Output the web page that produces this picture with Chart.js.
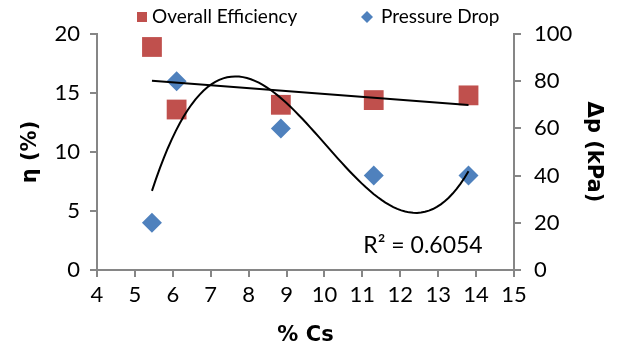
<!DOCTYPE html>
<html>
<head>
<meta charset="UTF-8">
<title>Efficiency and pressure drop vs % Cs</title>
<script src="https://cdn.jsdelivr.net/npm/chart.js"></script>
<style>
    body { margin: 0; background: #fff; }
    #wrap { width: 620px; height: 353px; }
</style>
</head>
<body>
<div id="wrap"><canvas id="myChart"></canvas></div>
<script>
const csValues = [5.45, 6.1, 8.85, 11.3, 13.8];
const efficiency = [18.9, 13.6, 14.0, 14.4, 14.8];
const pressureDrop = [20, 80, 60, 40, 40];
const rSquaredText = 'R² = 0.6054';

// least squares polynomial fit (same as the spreadsheet trendlines)
function polyFit(xs, ys, order) {
    const n = order + 1;
    const A = [];
    for (let i = 0; i < n; i++) A.push(new Array(n + 1).fill(0));
    for (let k = 0; k < xs.length; k++) {
        for (let i = 0; i < n; i++) {
            for (let j = 0; j < n; j++) A[i][j] += Math.pow(xs[k], i + j);
            A[i][n] += ys[k] * Math.pow(xs[k], i);
        }
    }
    for (let c = 0; c < n; c++) {
        let p = c;
        for (let r = c + 1; r < n; r++) if (Math.abs(A[r][c]) > Math.abs(A[p][c])) p = r;
        [A[c], A[p]] = [A[p], A[c]];
        for (let r = 0; r < n; r++) {
            if (r === c) continue;
            const f = A[r][c] / A[c][c];
            for (let j = c; j <= n; j++) A[r][j] -= f * A[c][j];
        }
    }
    return A.map((row, i) => row[n] / row[i]);
}
function trendPoints(coef, xs, steps) {
    const lo = Math.min(...xs), hi = Math.max(...xs);
    const pts = [];
    for (let s = 0; s <= steps; s++) {
        const x = lo + (hi - lo) * s / steps;
        let y = 0;
        coef.forEach((c, i) => { y += c * Math.pow(x, i); });
        pts.push({ x: x, y: y });
    }
    return pts;
}

const effTrend = trendPoints(polyFit(csValues, efficiency, 1), csValues, 1);
const dpTrend = trendPoints(polyFit(csValues, pressureDrop, 3), csValues, 80);

const axisGray = '#868686';
const tickFont = { family: 'Lato', size: 22 };
const titleFont = { family: 'DejaVu Sans', size: 21, weight: 'bold' };

// R² text and the legend, drawn by hand so spacing matches the original
const extras = {
    id: 'extras',
    afterDatasetsDraw(chart) {
        const c = chart.ctx;
        const ds = chart.data.datasets;
        c.save();
        c.fillStyle = '#000';
        c.textBaseline = 'middle';
        c.font = '23px Lato';
        c.textAlign = 'center';
        c.fillText(rSquaredText, chart.scales.x.getPixelForValue(12.6), chart.scales.y.getPixelForValue(2.1));

        c.font = '19px Lato';
        c.textAlign = 'left';
        const ly = 17;
        c.fillStyle = ds[0].backgroundColor;
        c.fillRect(137, ly - 5, 10, 10);
        c.fillStyle = '#000';
        c.fillText(ds[0].label, 152, ly);
        c.fillStyle = ds[1].backgroundColor;
        c.beginPath();
        c.moveTo(367, ly - 6);
        c.lineTo(373, ly);
        c.lineTo(367, ly + 6);
        c.lineTo(361, ly);
        c.closePath();
        c.fill();
        c.fillStyle = '#000';
        c.fillText(ds[1].label, 381, ly);
        c.restore();
    }
};

new Chart(document.getElementById('myChart'), {
    type: 'scatter',
    data: {
        datasets: [{
            label: 'Overall Efficiency',
            data: csValues.map((x, i) => ({ x: x, y: efficiency[i] })),
            yAxisID: 'y',
            pointStyle: 'rect',
            pointRadius: 14,
            backgroundColor: '#C0504D',
            borderColor: '#C0504D',
            borderWidth: 0,
            order: 1
        }, {
            label: 'Pressure Drop',
            data: csValues.map((x, i) => ({ x: x, y: pressureDrop[i] })),
            yAxisID: 'y1',
            pointStyle: 'rectRot',
            pointRadius: 10,
            backgroundColor: '#4F81BD',
            borderColor: '#4F81BD',
            borderWidth: 0,
            order: 1
        }, {
            label: 'linear',
            data: effTrend,
            yAxisID: 'y',
            showLine: true,
            pointRadius: 0,
            borderColor: '#000',
            borderWidth: 2,
            order: 0
        }, {
            label: 'poly',
            data: dpTrend,
            yAxisID: 'y1',
            showLine: true,
            pointRadius: 0,
            borderColor: '#000',
            borderWidth: 2,
            order: 0
        }]
    },
    options: {
        responsive: true,
        maintainAspectRatio: false,
        animation: false,
        layout: { padding: { top: 34, left: 0, right: 0, bottom: 4 } },
        plugins: {
            tooltip: { enabled: false },
            legend: { display: false }
        },
        scales: {
            x: {
                type: 'linear',
                min: 4,
                max: 15,
                ticks: { stepSize: 1, color: '#000', font: tickFont, padding: 5 },
                grid: { drawOnChartArea: false, tickLength: 7, color: axisGray, lineWidth: 2 },
                border: { color: axisGray, width: 2 },
                title: { display: true, text: '% Cs', color: '#000', font: titleFont, padding: { top: 0, bottom: 1 } },
                afterFit(s) { s.height = 79; }
            },
            y: {
                position: 'left',
                min: 0,
                max: 20,
                ticks: { stepSize: 5, color: '#000', font: tickFont, padding: 10 },
                grid: { drawOnChartArea: false, tickLength: 7, color: axisGray, lineWidth: 2 },
                border: { color: axisGray, width: 2 },
                title: { display: true, text: 'η (%)', color: '#000', font: titleFont, padding: { bottom: 0, top: 18 } },
                afterFit(s) { s.width = 97; }
            },
            y1: {
                position: 'right',
                min: 0,
                max: 100,
                ticks: { stepSize: 20, color: '#000', font: tickFont, padding: 13 },
                grid: { drawOnChartArea: false, tickLength: 7, color: axisGray, lineWidth: 2 },
                border: { color: axisGray, width: 2 },
                title: { display: true, text: 'Δp (kPa)', color: '#000', font: titleFont, padding: { top: 14, bottom: 12 } },
                afterFit(s) { s.width = 106; }
            }
        }
    },
    plugins: [extras]
});
</script>
</body>
</html>
